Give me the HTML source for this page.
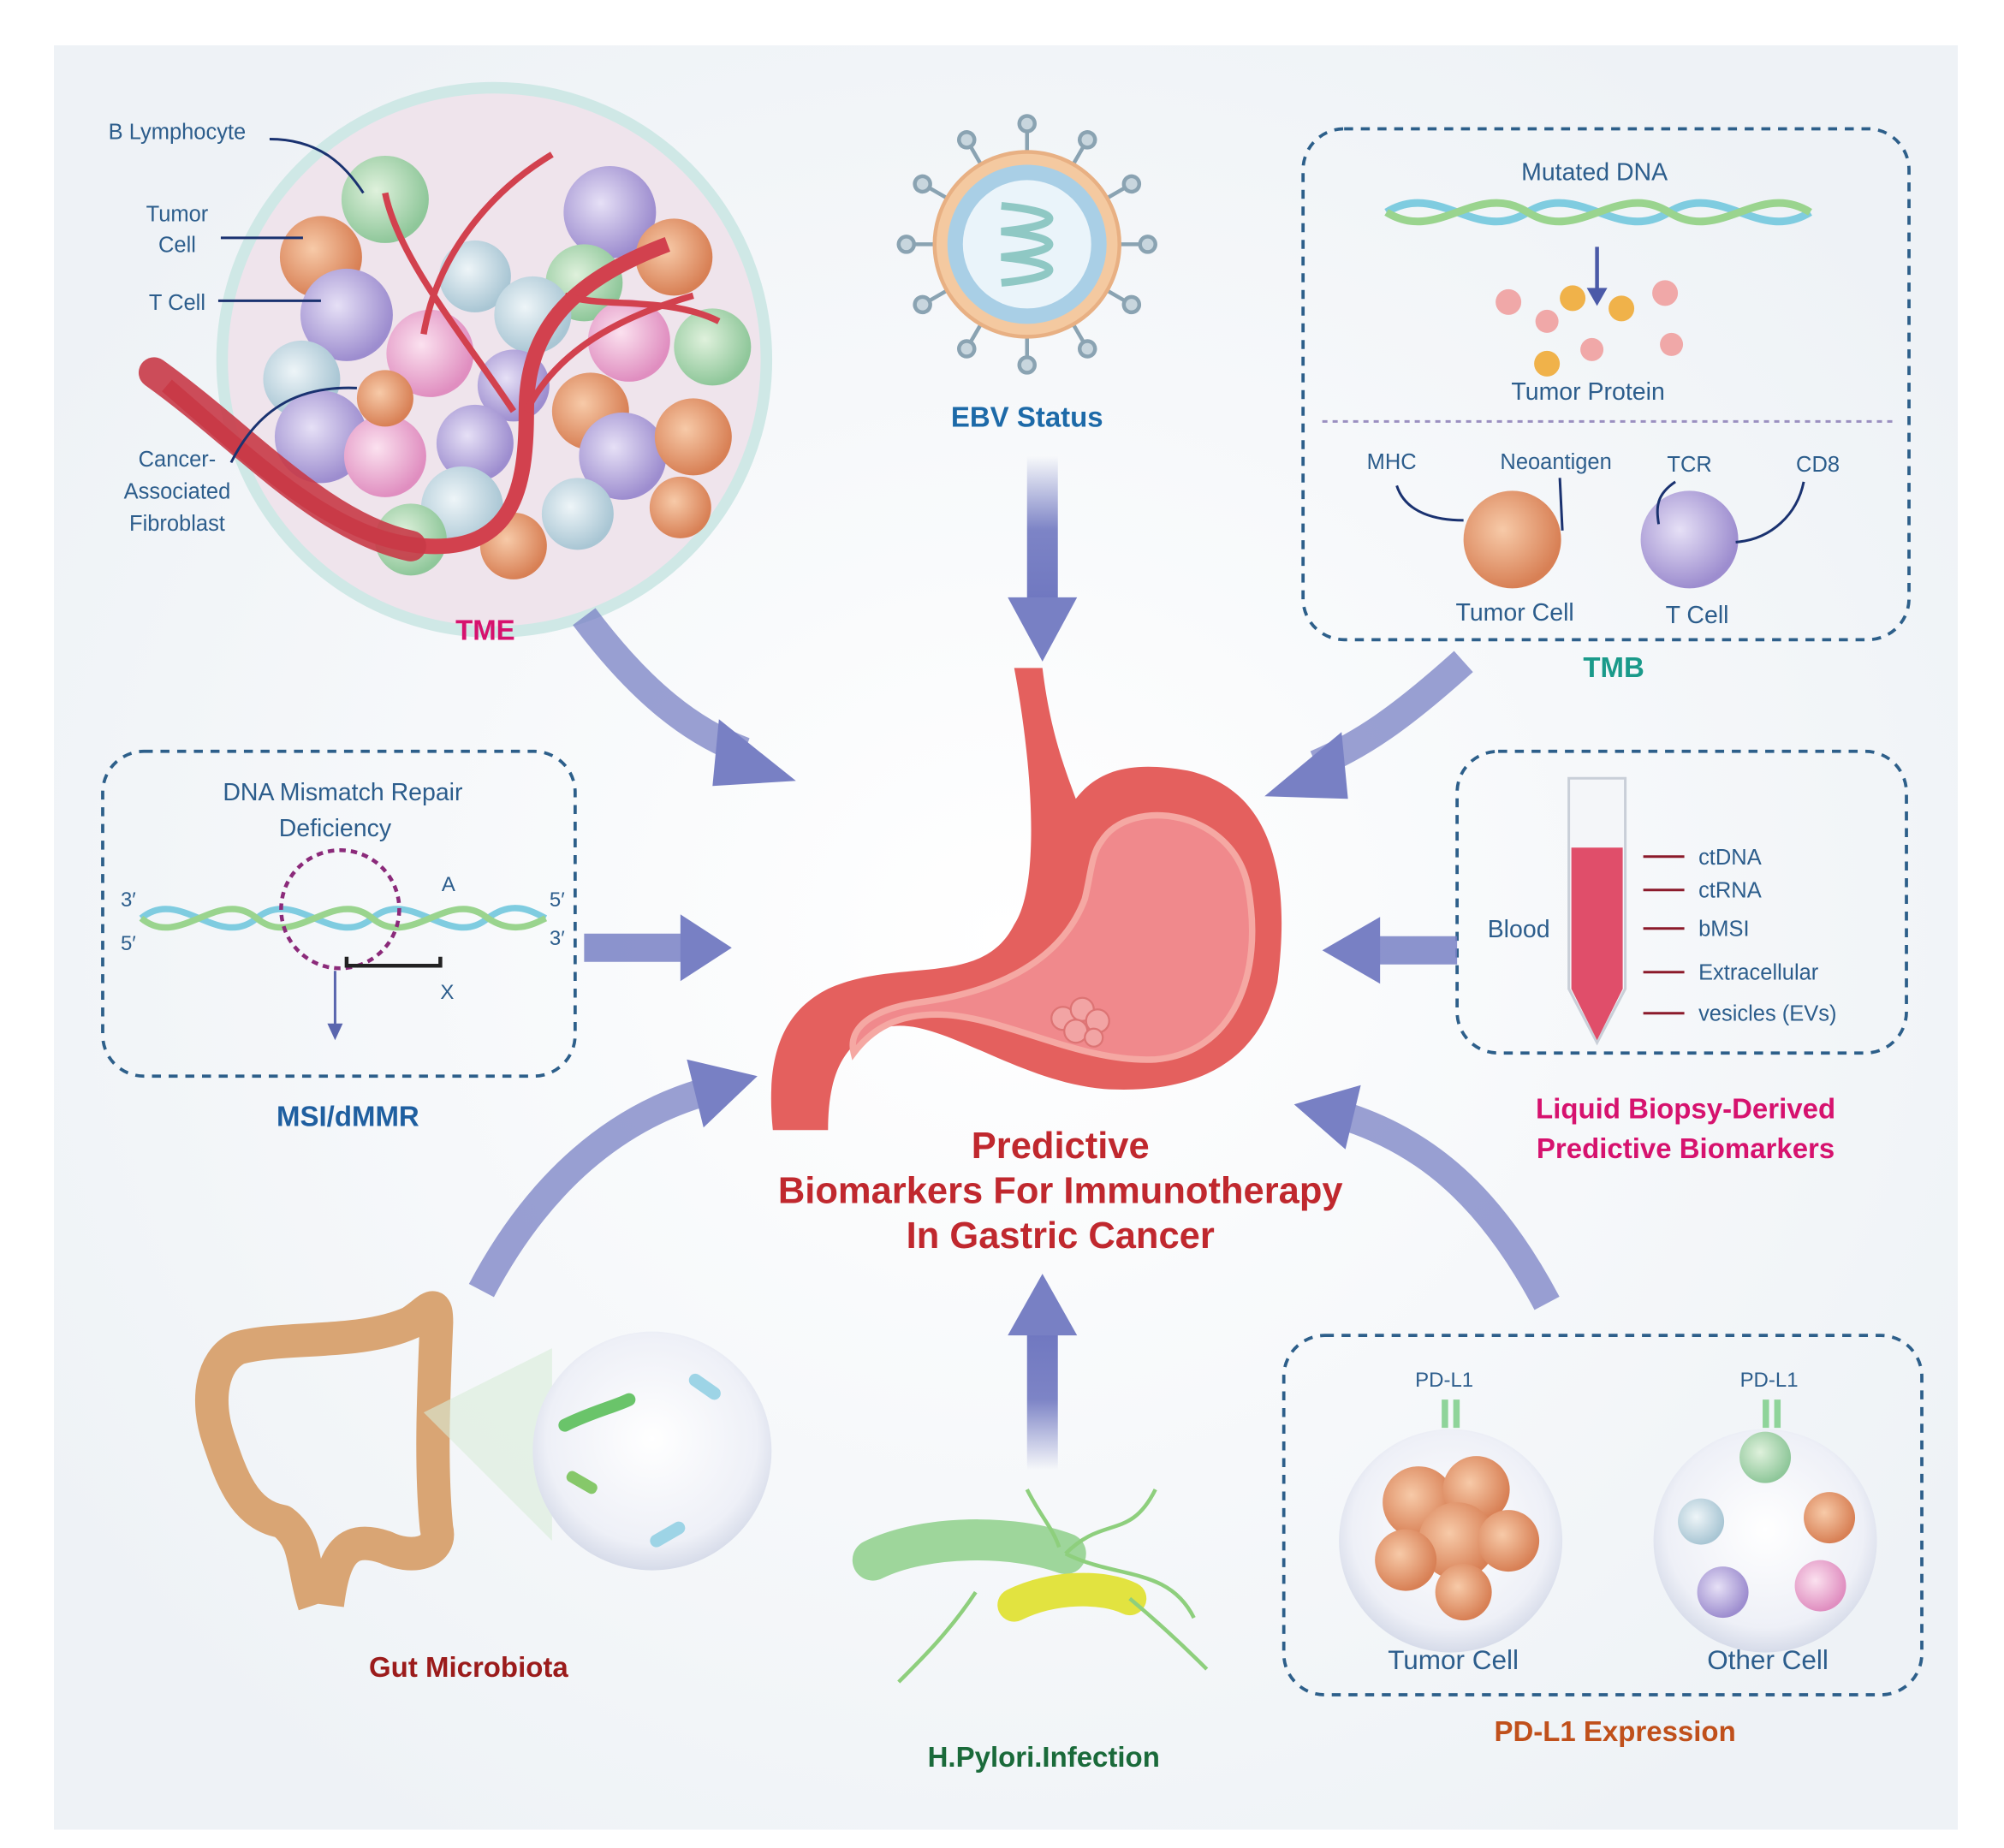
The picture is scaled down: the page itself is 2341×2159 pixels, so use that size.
<!DOCTYPE html>
<html><head><meta charset="utf-8"><style>
html,body{margin:0;padding:0;background:#fff}
svg{display:block}
text{font-family:"Liberation Sans",Arial,sans-serif}
</style></head><body>
<svg width="2341" height="2159" viewBox="0 0 1561 1439" xmlns="http://www.w3.org/2000/svg">
<defs>
<radialGradient id="bg" cx="0.5" cy="0.5" r="0.6"><stop offset="0" stop-color="#ffffff"/><stop offset="1" stop-color="#eef2f6"/></radialGradient>
<linearGradient id="aD" x1="0" y1="0" x2="0" y2="1"><stop offset="0" stop-color="#7d84c6" stop-opacity="0"/><stop offset="0.5" stop-color="#7d84c6"/><stop offset="1" stop-color="#6f77c0"/></linearGradient>
<linearGradient id="aU" x1="0" y1="1" x2="0" y2="0"><stop offset="0" stop-color="#7d84c6" stop-opacity="0"/><stop offset="0.5" stop-color="#7d84c6"/><stop offset="1" stop-color="#6f77c0"/></linearGradient>
<radialGradient id="cP" cx="0.4" cy="0.4" r="0.6"><stop offset="0" stop-color="#e6e0f6"/><stop offset="1" stop-color="#9d8dcf"/></radialGradient>
<radialGradient id="cG" cx="0.4" cy="0.4" r="0.6"><stop offset="0" stop-color="#dff1dc"/><stop offset="1" stop-color="#8fc79a"/></radialGradient>
<radialGradient id="cK" cx="0.4" cy="0.4" r="0.6"><stop offset="0" stop-color="#fbe1ef"/><stop offset="1" stop-color="#e08ec0"/></radialGradient>
<radialGradient id="cO" cx="0.4" cy="0.4" r="0.6"><stop offset="0" stop-color="#f7caa8"/><stop offset="1" stop-color="#d88055"/></radialGradient>
<radialGradient id="cB" cx="0.4" cy="0.4" r="0.6"><stop offset="0" stop-color="#eef5f8"/><stop offset="1" stop-color="#a9c6d4"/></radialGradient>
<radialGradient id="sph" cx="0.5" cy="0.45" r="0.55"><stop offset="0" stop-color="#ffffff"/><stop offset="0.8" stop-color="#eef0f7"/><stop offset="1" stop-color="#d6dbe9"/></radialGradient>
</defs>
<rect x="0" y="0" width="1561" height="1439" fill="#fff"/>
<rect x="42" y="35" width="1483" height="1390" fill="url(#bg)"/>

<!-- TME -->
<circle cx="385" cy="280" r="212" fill="#efe4ec" stroke="#cfe8e6" stroke-width="9"/>
<g>
<circle cx="300" cy="155" r="34" fill="url(#cG)"/>
<circle cx="475" cy="165" r="36" fill="url(#cP)"/>
<circle cx="250" cy="200" r="32" fill="url(#cO)"/>
<circle cx="370" cy="215" r="28" fill="url(#cB)"/>
<circle cx="455" cy="220" r="30" fill="url(#cG)"/>
<circle cx="525" cy="200" r="30" fill="url(#cO)"/>
<circle cx="270" cy="245" r="36" fill="url(#cP)"/>
<circle cx="415" cy="245" r="30" fill="url(#cB)"/>
<circle cx="335" cy="275" r="34" fill="url(#cK)"/>
<circle cx="490" cy="265" r="32" fill="url(#cK)"/>
<circle cx="555" cy="270" r="30" fill="url(#cG)"/>
<circle cx="235" cy="295" r="30" fill="url(#cB)"/>
<circle cx="400" cy="300" r="28" fill="url(#cP)"/>
<circle cx="460" cy="320" r="30" fill="url(#cO)"/>
<circle cx="250" cy="340" r="36" fill="url(#cP)"/>
<circle cx="300" cy="355" r="32" fill="url(#cK)"/>
<circle cx="370" cy="345" r="30" fill="url(#cP)"/>
<circle cx="485" cy="355" r="34" fill="url(#cP)"/>
<circle cx="540" cy="340" r="30" fill="url(#cO)"/>
<circle cx="360" cy="395" r="32" fill="url(#cB)"/>
<circle cx="450" cy="400" r="28" fill="url(#cB)"/>
<circle cx="320" cy="420" r="28" fill="url(#cG)"/>
<circle cx="400" cy="425" r="26" fill="url(#cO)"/>
<circle cx="300" cy="310" r="22" fill="url(#cO)"/>
<circle cx="530" cy="395" r="24" fill="url(#cO)"/>
</g>
<path d="M130,300 C200,360 260,420 330,425 C400,430 410,380 410,320 C410,260 440,220 520,190" fill="none" stroke="#d2414e" stroke-width="12"/>
<path d="M120,290 C190,340 250,410 320,425" fill="none" stroke="#c83a47" stroke-width="24" stroke-linecap="round" opacity="0.9"/>
<path d="M300,150 C310,200 360,260 400,320 M330,260 C340,200 380,150 430,120 M440,230 C470,240 520,230 560,250 M410,320 C430,280 470,250 540,230" fill="none" stroke="#d2414e" stroke-width="5"/>
<g font-size="17" fill="#2c5d8c" text-anchor="middle">
<text x="138" y="108">B Lymphocyte</text>
<text x="138" y="172">Tumor</text><text x="138" y="196">Cell</text>
<text x="138" y="241">T Cell</text>
<text x="138" y="363">Cancer-</text><text x="138" y="388">Associated</text><text x="138" y="413">Fibroblast</text>
</g>
<g fill="none" stroke="#1a3270" stroke-width="2">
<path d="M210,108 C250,108 270,130 283,150"/><path d="M172,185 L236,185"/><path d="M170,234 L250,234"/><path d="M180,360 C200,320 230,300 278,302"/>
</g>
<text x="378" y="498" font-size="22" font-weight="bold" fill="#d6126e" text-anchor="middle">TME</text>

<!-- EBV -->
<g stroke="#8aa3b2" stroke-width="3" fill="#c8d6de">
<g id="sp"><line x1="800" y1="190" x2="800" y2="100"/><circle cx="800" cy="96" r="6"/></g>
<use href="#sp" transform="rotate(30 800 190)"/><use href="#sp" transform="rotate(60 800 190)"/><use href="#sp" transform="rotate(90 800 190)"/><use href="#sp" transform="rotate(120 800 190)"/><use href="#sp" transform="rotate(150 800 190)"/><use href="#sp" transform="rotate(180 800 190)"/><use href="#sp" transform="rotate(210 800 190)"/><use href="#sp" transform="rotate(240 800 190)"/><use href="#sp" transform="rotate(270 800 190)"/><use href="#sp" transform="rotate(300 800 190)"/><use href="#sp" transform="rotate(330 800 190)"/>
</g>
<circle cx="800" cy="190" r="72" fill="#f4c9a0" stroke="#e8b083" stroke-width="3"/>
<circle cx="800" cy="190" r="62" fill="#a9cfe6"/>
<circle cx="800" cy="190" r="50" fill="#eaf4fa"/>
<path d="M780,160 C830,165 830,175 780,180 C830,185 830,195 780,200 C830,205 830,215 780,220" fill="none" stroke="#8fc8c4" stroke-width="6"/>
<text x="800" y="332" font-size="22" font-weight="bold" fill="#1d6aa8" text-anchor="middle">EBV Status</text>

<!-- TMB box -->
<rect x="1015" y="100" width="472" height="398" rx="32" fill="none" stroke="#2d5f8a" stroke-width="2.5" stroke-dasharray="7,6"/>
<text x="1242" y="140" font-size="19" fill="#2c5d8c" text-anchor="middle">Mutated DNA</text>
<path d="M1080,165 C1120,140 1150,190 1190,165 C1230,140 1260,190 1300,165 C1340,140 1370,190 1410,165" fill="none" stroke="#7fcce0" stroke-width="6"/>
<path d="M1080,165 C1120,190 1150,140 1190,165 C1230,190 1260,140 1300,165 C1340,190 1370,140 1410,165" fill="none" stroke="#9ad48e" stroke-width="6"/>
<line x1="1244" y1="192" x2="1244" y2="228" stroke="#4b5aa8" stroke-width="3"/><path d="M1236,224 L1252,224 L1244,238Z" fill="#4b5aa8"/>
<g fill="#f0a8a8"><circle cx="1175" cy="235" r="10"/><circle cx="1205" cy="250" r="9"/><circle cx="1297" cy="228" r="10"/><circle cx="1240" cy="272" r="9"/><circle cx="1302" cy="268" r="9"/></g>
<g fill="#f0b24a"><circle cx="1225" cy="232" r="10"/><circle cx="1263" cy="240" r="10"/><circle cx="1205" cy="283" r="10"/></g>
<text x="1237" y="311" font-size="19" fill="#2c5d8c" text-anchor="middle">Tumor Protein</text>
<line x1="1030" y1="328" x2="1475" y2="328" stroke="#9a8fc0" stroke-width="2" stroke-dasharray="4,4"/>
<g font-size="17" fill="#2c5d8c" text-anchor="middle"><text x="1084" y="365">MHC</text><text x="1212" y="365">Neoantigen</text><text x="1316" y="367">TCR</text><text x="1416" y="367">CD8</text>
<text x="1180" y="483" font-size="19">Tumor Cell</text><text x="1322" y="485" font-size="19">T Cell</text></g>
<circle cx="1178" cy="420" r="38" fill="url(#cO)"/>
<circle cx="1316" cy="420" r="38" fill="url(#cP)"/>
<g fill="none" stroke="#1a3270" stroke-width="2"><path d="M1088,378 C1095,400 1120,405 1140,405"/><path d="M1215,372 L1217,413"/><path d="M1305,375 C1290,385 1290,395 1292,408"/><path d="M1405,375 C1400,400 1380,420 1352,422"/></g>
<text x="1257" y="527" font-size="22" font-weight="bold" fill="#1a9a8a" text-anchor="middle">TMB</text>

<!-- MSI -->
<rect x="80" y="585" width="368" height="253" rx="32" fill="none" stroke="#2d5f8a" stroke-width="2.5" stroke-dasharray="7,6"/>
<text x="267" y="623" font-size="19" fill="#2c5d8c" text-anchor="middle">DNA Mismatch Repair</text>
<text x="261" y="651" font-size="19" fill="#2c5d8c" text-anchor="middle">Deficiency</text>
<path d="M110,715 C140,690 170,740 200,715 C230,690 260,740 290,715 C320,690 350,740 380,715 C400,700 415,710 425,715" fill="none" stroke="#7fcce0" stroke-width="5"/>
<path d="M110,715 C140,740 170,690 200,715 C230,740 260,690 290,715 C320,740 350,690 380,715 C400,728 415,720 425,715" fill="none" stroke="#9ad48e" stroke-width="5"/>
<circle cx="265" cy="708" r="46" fill="none" stroke="#8b2a7a" stroke-width="3" stroke-dasharray="5,4"/>
<path d="M270,745 L270,752 L343,752 L343,745" fill="none" stroke="#222" stroke-width="3"/>
<line x1="261" y1="756" x2="261" y2="800" stroke="#5a66ae" stroke-width="2"/><path d="M255,797 L267,797 L261,810Z" fill="#5a66ae"/>
<g font-size="16" fill="#2c5d8c"><text x="94" y="706">3′</text><text x="94" y="740">5′</text><text x="344" y="694">A</text><text x="428" y="706">5′</text><text x="428" y="736">3′</text><text x="343" y="778">X</text></g>
<text x="271" y="877" font-size="22" font-weight="bold" fill="#1f5fa0" text-anchor="middle">MSI/dMMR</text>

<!-- Liquid biopsy -->
<rect x="1135" y="585" width="350" height="235" rx="32" fill="none" stroke="#2d5f8a" stroke-width="2.5" stroke-dasharray="7,6"/>
<path d="M1222,606 L1266,606 L1266,770 L1244,812 L1222,770 Z" fill="#f4f6f9" stroke="#c9cfd8" stroke-width="2"/>
<path d="M1224,660 L1264,660 L1264,770 L1244,810 L1224,770 Z" fill="#e04e6a"/>
<text x="1183" y="730" font-size="19" fill="#2c5d8c" text-anchor="middle">Blood</text>
<g stroke="#8b1a2a" stroke-width="2" fill="#8b1a2a"><line x1="1280" y1="667" x2="1312" y2="667"/><line x1="1280" y1="693" x2="1312" y2="693"/><line x1="1280" y1="723" x2="1312" y2="723"/><line x1="1280" y1="757" x2="1312" y2="757"/><line x1="1280" y1="789" x2="1312" y2="789"/></g>
<g font-size="17" fill="#2c5d8c"><text x="1323" y="673">ctDNA</text><text x="1323" y="699">ctRNA</text><text x="1323" y="729">bMSI</text><text x="1323" y="763">Extracellular</text><text x="1323" y="795">vesicles (EVs)</text></g>
<text x="1313" y="871" font-size="22" font-weight="bold" fill="#d6126e" text-anchor="middle">Liquid Biopsy-Derived</text>
<text x="1313" y="902" font-size="22" font-weight="bold" fill="#d6126e" text-anchor="middle">Predictive Biomarkers</text>

<!-- PD-L1 -->
<rect x="1000" y="1040" width="497" height="280" rx="32" fill="none" stroke="#2d5f8a" stroke-width="2.5" stroke-dasharray="7,6"/>
<circle cx="1130" cy="1200" r="87" fill="url(#sph)"/>
<circle cx="1375" cy="1200" r="87" fill="url(#sph)"/>
<g fill="url(#cO)"><circle cx="1105" cy="1170" r="28"/><circle cx="1150" cy="1160" r="26"/><circle cx="1135" cy="1200" r="30"/><circle cx="1095" cy="1215" r="24"/><circle cx="1175" cy="1200" r="24"/><circle cx="1140" cy="1240" r="22"/></g>
<circle cx="1375" cy="1135" r="20" fill="url(#cG)"/><circle cx="1325" cy="1185" r="18" fill="url(#cB)"/><circle cx="1425" cy="1182" r="20" fill="url(#cO)"/><circle cx="1342" cy="1240" r="20" fill="url(#cP)"/><circle cx="1418" cy="1235" r="20" fill="url(#cK)"/>
<g fill="#8fd49a"><rect x="1123" y="1090" width="5" height="22"/><rect x="1132" y="1090" width="5" height="22"/><rect x="1373" y="1090" width="5" height="22"/><rect x="1382" y="1090" width="5" height="22"/></g>
<g font-size="16" fill="#2c5d8c" text-anchor="middle"><text x="1125" y="1080">PD-L1</text><text x="1378" y="1080">PD-L1</text></g>
<g font-size="21" fill="#2c5d8c" text-anchor="middle"><text x="1132" y="1300">Tumor Cell</text><text x="1377" y="1300">Other Cell</text></g>
<text x="1258" y="1356" font-size="22" font-weight="bold" fill="#c0501b" text-anchor="middle">PD-L1 Expression</text>

<!-- Gut -->
<path d="M245,1250 C235,1220 240,1200 220,1185 C190,1180 180,1150 170,1120 C160,1090 165,1060 185,1050 C220,1040 280,1048 320,1030 C335,1020 340,1010 340,1030 C338,1080 335,1140 340,1190 C345,1210 320,1215 300,1205 C270,1195 260,1210 255,1250" fill="none" stroke="#d9a574" stroke-width="26" stroke-linejoin="round"/>
<path d="M330,1100 L430,1050 L430,1200 Z" fill="#d8ecd8" opacity="0.6"/>
<circle cx="508" cy="1130" r="93" fill="url(#sph)"/>
<path d="M440,1110 C460,1100 480,1095 490,1090" stroke="#6ac46a" stroke-width="10" stroke-linecap="round" fill="none"/>
<rect x="535" y="1075" width="28" height="10" rx="5" fill="#9dd4e6" transform="rotate(35 549 1080)"/>
<rect x="505" y="1190" width="30" height="10" rx="5" fill="#9dd4e6" transform="rotate(-30 520 1195)"/>
<rect x="440" y="1150" width="26" height="9" rx="4" fill="#86c86a" transform="rotate(30 453 1155)"/>
<text x="365" y="1306" font-size="22" font-weight="bold" fill="#9b1b1b" text-anchor="middle">Gut  Microbiota</text>

<!-- H pylori -->
<path d="M680,1215 C720,1195 790,1195 830,1210" stroke="#9ed69b" stroke-width="32" stroke-linecap="round" fill="none"/>
<path d="M790,1250 C820,1235 860,1235 880,1245" stroke="#e2e340" stroke-width="26" stroke-linecap="round" fill="none"/>
<g stroke="#8ecf7d" stroke-width="3" fill="none"><path d="M830,1210 C860,1180 880,1200 900,1160"/><path d="M830,1210 C870,1230 910,1220 930,1260"/><path d="M800,1160 C810,1180 820,1190 825,1205"/><path d="M760,1240 C740,1270 720,1290 700,1310"/><path d="M880,1245 C910,1270 930,1290 940,1300"/></g>
<text x="813" y="1376" font-size="22" font-weight="bold" fill="#1a6a3a" text-anchor="middle">H.Pylori.Infection</text>

<!-- Stomach -->
<path d="M812,520 C818,570 830,600 838,622 C855,600 880,592 925,600 C995,615 1005,690 995,765 C980,832 925,852 860,848 C790,842 730,790 690,800 C655,810 645,840 645,880 L602,880 C597,830 605,790 645,770 C700,745 765,770 790,720 C810,690 805,600 790,520 Z" fill="#e4605e"/>
<path d="M858,655 C880,620 960,630 972,690 C985,760 960,820 900,825 C840,828 780,790 730,790 C700,790 680,800 665,820 C660,800 680,785 720,780 C790,770 830,740 845,700 C850,680 850,665 858,655 Z" fill="#f0898c" stroke="#f5a8a3" stroke-width="5"/>
<g fill="#f2a4a4" stroke="#dd7474" stroke-width="1.5"><circle cx="828" cy="793" r="9"/><circle cx="843" cy="786" r="9"/><circle cx="855" cy="795" r="9"/><circle cx="838" cy="803" r="9"/><circle cx="852" cy="808" r="7"/></g>
<g font-size="29" font-weight="bold" fill="#c0282e" text-anchor="middle"><text x="826" y="902">Predictive</text><text x="826" y="937">Biomarkers For Immunotherapy</text><text x="826" y="972">In Gastric Cancer</text></g>

<!-- Arrows -->
<g fill="#7880c4">
<rect x="800" y="355" width="24" height="115" fill="url(#aD)"/><path d="M785,465 L839,465 L812,515 Z"/>
<rect x="800" y="1035" width="24" height="110" fill="url(#aU)"/><path d="M785,1040 L839,1040 L812,992 Z"/>
<path d="M455,480 C500,540 540,570 580,585" stroke="#7880c4" stroke-width="22" fill="none" opacity="0.75"/><path d="M560,560 L620,608 L555,612 Z"/>
<path d="M1140,515 C1090,560 1060,580 1025,595" stroke="#7880c4" stroke-width="22" fill="none" opacity="0.75"/><path d="M1045,570 L985,620 L1050,622 Z"/>
<rect x="455" y="727" width="80" height="22" opacity="0.85"/><path d="M530,712 L570,738 L530,764 Z"/>
<rect x="1070" y="729" width="65" height="22" opacity="0.85"/><path d="M1075,714 L1030,740 L1075,766 Z"/>
<path d="M375,1005 C420,920 480,870 550,850" stroke="#7880c4" stroke-width="22" fill="none" opacity="0.75"/><path d="M535,825 L590,838 L548,878 Z"/>
<path d="M1205,1015 C1160,930 1110,890 1050,870" stroke="#7880c4" stroke-width="22" fill="none" opacity="0.75"/><path d="M1060,845 L1008,860 L1048,895 Z"/>
</g>
</svg>
</body></html>
